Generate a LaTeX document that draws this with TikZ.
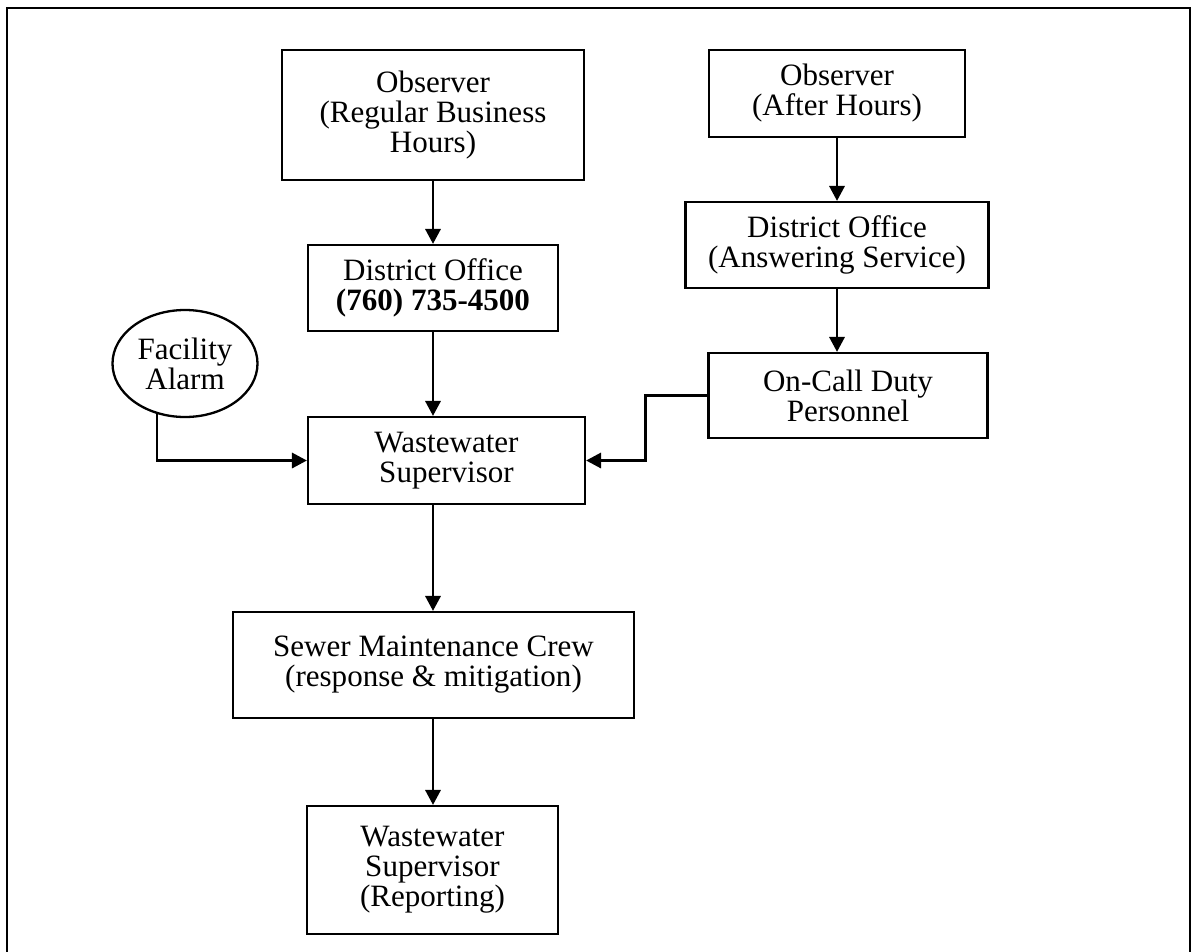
\documentclass[tikz,border=0pt]{standalone}
\usepackage{fontspec}
\setmainfont{Liberation Serif}
\usetikzlibrary{arrows.meta,shapes.geometric}

\newcommand{\pxu}{0.01675cm}

\tikzset{
  flowbox/.style={draw, line width=1.1pt, align=center, inner sep=0pt,
    font=\fontsize{14.8}{14.3}\selectfont},
  flowoval/.style={flowbox, ellipse},
  flowarrow/.style={line width=1.1pt, -{Triangle[length=7.1pt,width=7.3pt]}}
}

\begin{document}
\begin{tikzpicture}[x=\pxu, y=-\pxu]
    \useasboundingbox (0,0) rectangle (1204,951);

    % Outer frame (open at the bottom)
    \draw[line width=1.2pt] (7,960) -- (7,8) -- (1190,8) -- (1190,960);

    % Regular business hours branch
    \node[flowbox, minimum width=302*\pxu, minimum height=130*\pxu] (obsreg) at (433,115)
        {Observer\\(Regular Business\\Hours)};
    \node[flowbox, minimum width=250*\pxu, minimum height=86*\pxu] (dodist) at (433,288)
        {District Office\\\textbf{(760) 735-4500}};

    % After hours branch
    \node[flowbox, minimum width=256*\pxu, minimum height=87*\pxu] (obsaft) at (837,93.5)
        {Observer\\(After Hours)};
    \node[flowbox, minimum width=303*\pxu, minimum height=86*\pxu] (doans) at (837,245)
        {District Office\\(Answering Service)};
    \node[flowbox, minimum width=279*\pxu, minimum height=85*\pxu] (oncall) at (848,395.5)
        {On-Call Duty\\Personnel};

    % Alarm
    \node[flowoval, minimum width=145*\pxu, minimum height=107*\pxu] (alarm) at (185,363.5)
        {Facility\\Alarm};

    % Main column
    \node[flowbox, minimum width=277*\pxu, minimum height=87*\pxu] (wwsup) at (446.5,460.5)
        {Wastewater\\Supervisor};
    \node[flowbox, minimum width=401*\pxu, minimum height=106*\pxu] (crew) at (433.5,665)
        {Sewer Maintenance Crew\\(response \& mitigation)};
    \node[flowbox, minimum width=251*\pxu, minimum height=128*\pxu] (report) at (432.5,870)
        {Wastewater\\Supervisor\\(Reporting)};

    % Connectors
    \draw[flowarrow] (obsreg.south) -- (dodist.north);
    \draw[flowarrow] (dodist.south) -- (dodist.south |- wwsup.north);
    \draw[flowarrow] (obsaft.south) -- (doans.north);
    \draw[flowarrow] (doans.south) -- (doans.south |- oncall.north);
    \draw[flowarrow] (alarm.241) |- (wwsup.west);
    \draw[flowarrow] (oncall.west) -- ++(-62,0) |- (wwsup.east);
    \draw[flowarrow] (dodist.south |- wwsup.south) -- (dodist.south |- crew.north);
    \draw[flowarrow] (dodist.south |- crew.south) -- (dodist.south |- report.north);
\end{tikzpicture}
\end{document}
